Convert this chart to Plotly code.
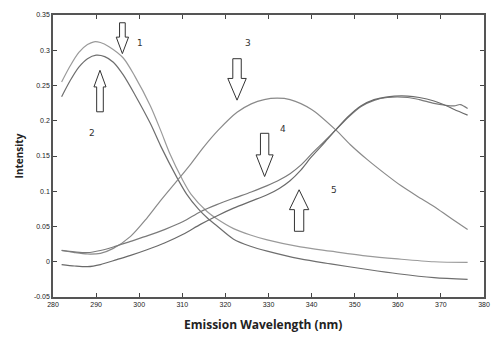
import plotly.graph_objects as go

# Wavelength samples (nm) and intensities for each spectrum
x1 = [282, 284, 286, 288, 289.5, 291, 293, 296.3, 299, 302.6, 305, 307.2, 309.9, 312, 315.8, 318, 321.9, 325.8, 329.7, 337.4, 344.4, 353, 360, 368.4, 376.2]
y1 = [0.255, 0.278, 0.297, 0.308, 0.312, 0.311, 0.305, 0.289, 0.263, 0.221, 0.186, 0.152, 0.118, 0.096, 0.071, 0.061, 0.047, 0.038, 0.031, 0.021, 0.015, 0.008, 0.004, 0.000, -0.001]

x2 = [282, 284, 286, 288, 290, 292, 294, 296.3, 299, 302.6, 305, 308.8, 311, 313.7, 316, 318, 321.9, 325.8, 329.7, 337.4, 344.4, 353, 360, 368.4, 376.2]
y2 = [0.234, 0.257, 0.276, 0.288, 0.293, 0.291, 0.283, 0.265, 0.237, 0.196, 0.164, 0.119, 0.096, 0.075, 0.061, 0.051, 0.032, 0.022, 0.015, 0.004, -0.003, -0.011, -0.017, -0.0226, -0.025]

x3 = [282, 285, 288, 291, 294, 298, 301.8, 305, 308.8, 312, 315, 318.4, 322.7, 326, 329, 332, 335, 340, 345.6, 349, 353, 357, 360.7, 364.5, 368.4, 372, 376.2]
y3 = [0.016, 0.013, 0.011, 0.012, 0.019, 0.036, 0.062, 0.087, 0.115, 0.139, 0.163, 0.187, 0.212, 0.224, 0.230, 0.232, 0.230, 0.216, 0.187, 0.166, 0.1445, 0.125, 0.108, 0.093, 0.0785, 0.063, 0.0456]

x4 = [282, 285, 288, 291, 294, 298, 302, 306, 310.2, 314.2, 318, 321.9, 326, 329.7, 332.5, 335, 337.5, 340, 343, 345.6, 348.5, 351.4, 354.5, 357.6, 362.3, 365, 368.4, 371, 373.1, 374.5, 376.2]
y4 = [0.016, 0.014, 0.013, 0.016, 0.021, 0.029, 0.037, 0.046, 0.057, 0.071, 0.081, 0.090, 0.099, 0.108, 0.116, 0.125, 0.137, 0.153, 0.171, 0.187, 0.205, 0.220, 0.229, 0.233, 0.233, 0.230, 0.2246, 0.222, 0.221, 0.223, 0.2175]

x5 = [282, 285, 288, 291, 294.8, 298, 301.8, 306, 310.2, 314.2, 318, 321.9, 326, 329.7, 332.5, 335, 337.5, 340, 343, 345.6, 348.5, 351.4, 354.5, 357.6, 362.3, 365, 368.4, 371, 373.1, 376.2]
y5 = [-0.004, -0.006, -0.007, -0.004, 0.003, 0.009, 0.017, 0.027, 0.039, 0.053, 0.065, 0.076, 0.086, 0.095, 0.104, 0.115, 0.130, 0.149, 0.169, 0.187, 0.206, 0.221, 0.230, 0.234, 0.235, 0.233, 0.228, 0.222, 0.216, 0.208]

x_ticks = [280, 290, 300, 310, 320, 330, 340, 350, 360, 370, 380]
y_ticks = [-0.05, 0, 0.05, 0.1, 0.15, 0.2, 0.25, 0.3, 0.35]
y_tick_labels = ["-0.05", "0", "0.05", "0.1", "0.15", "0.2", "0.25", "0.3", "0.35"]

curve_labels = ["1", "2", "3", "4", "5"]
label_x = [300.2, 289.0, 325.3, 333.3, 345.2]
label_y = [0.310, 0.182, 0.311, 0.189, 0.102]

# arrows: centre x, tail y, head-base y, tip y
arrow_cx = [296.1, 290.9, 322.7, 329.1, 337.1]
arrow_tail = [0.339, 0.2127, 0.288, 0.1822, 0.0432]
arrow_base = [0.3186, 0.248, 0.260, 0.1516, 0.0739]
arrow_tip = [0.2952, 0.2716, 0.2292, 0.1209, 0.1021]
arrow_shaft_hw = [0.66, 0.77, 0.98, 0.97, 1.08]
arrow_head_hw = [1.43, 1.40, 2.14, 1.98, 2.24]

fig = go.Figure()
series = [(x1, y1, "#9a9a9a"), (x2, y2, "#6e6e6e"), (x3, y3, "#8a8a8a"), (x4, y4, "#7a7a7a"), (x5, y5, "#6a6a6a")]
for xs, ys, c in series:
    fig.add_trace(go.Scatter(x=xs, y=ys, mode="lines", line=dict(color=c, width=1.2, shape="spline", smoothing=0.8), showlegend=False, hoverinfo="skip"))

for cx, yt, yb, yp, sw, hw in zip(arrow_cx, arrow_tail, arrow_base, arrow_tip, arrow_shaft_hw, arrow_head_hw):
    path = (f"M {cx-sw},{yt} L {cx+sw},{yt} L {cx+sw},{yb} L {cx+hw},{yb} "
            f"L {cx},{yp} L {cx-hw},{yb} L {cx-sw},{yb} Z")
    fig.add_shape(type="path", path=path, xref="x", yref="y", line=dict(color="#333333", width=1), fillcolor="white")

for t, lx, ly in zip(curve_labels, label_x, label_y):
    fig.add_annotation(x=lx, y=ly, text=t, showarrow=False, font=dict(family="DejaVu Sans, Arial", size=9, color="#333333"))

fig.add_annotation(xref="paper", yref="paper", x=0.487, y=-0.099, yanchor="middle", xanchor="center",
                   text="<b>Emission Wavelength (nm)</b>", showarrow=False,
                   font=dict(family="Open Sans, DejaVu Sans", size=12, color="#222"))

fig.update_layout(
    width=500, height=337,
    margin=dict(l=53, r=16, t=15, b=40),
    paper_bgcolor="white", plot_bgcolor="white",
    font=dict(family="Liberation Sans, Arial", color="#222222"),
)
fig.update_xaxes(range=[280, 380], tickvals=x_ticks, ticktext=[str(v) for v in x_ticks],
                 ticks="inside", ticklen=4, tickcolor="#444", mirror="ticks", showline=True,
                 linecolor="#555555", linewidth=1.5, showgrid=False, zeroline=False,
                 tickfont=dict(size=7, color="#222"), automargin=False)
fig.update_yaxes(range=[-0.05, 0.35], tickvals=y_ticks, ticktext=y_tick_labels,
                 ticks="inside", ticklen=4, tickcolor="#444", mirror="ticks", showline=True,
                 linecolor="#555555", linewidth=1.5, showgrid=False, zeroline=False,
                 tickfont=dict(size=7, color="#222"),
                 title=dict(text="<b>Intensity</b>", font=dict(family="Open Sans, DejaVu Sans", size=10, color="#222"), standoff=8))

fig.write_html("out.html")
